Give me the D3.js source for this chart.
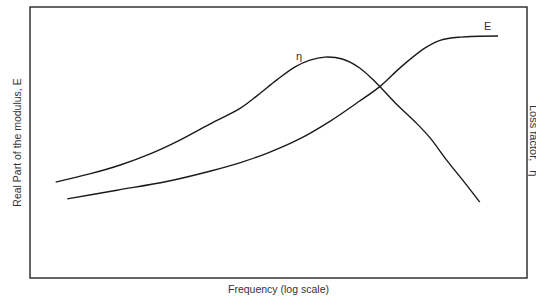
<!DOCTYPE html>
<html>
<head>
<meta charset="utf-8">
<script src="https://cdn.jsdelivr.net/npm/d3@7"></script>
<style>
  html, body { margin: 0; padding: 0; background: #fff; }
  svg { display: block; font-family: "Liberation Sans", Arial, sans-serif; }
</style>
</head>
<body>
<div id="chart"></div>
<script>
// log10 of frequency (arbitrary units) and relative values 0..100
const etaFreq = [0.31, 0.72, 1.09, 1.45, 1.81, 2.17, 2.54, 2.75, 2.98, 3.20, 3.38, 3.56, 3.77, 3.98, 4.17, 4.41, 4.65, 4.83, 5.03, 5.25, 5.43];
const etaValues = [35.4, 38.4, 41.7, 45.8, 50.9, 56.8, 62.7, 67.5, 73.1, 77.9, 80.4, 81.5, 80.8, 77.5, 72.3, 64.6, 57.6, 51.7, 43.5, 35.1, 28.0];

const modFreq = [0.45, 1.05, 1.65, 2.17, 2.54, 2.86, 3.26, 3.62, 3.98, 4.23, 4.48, 4.77, 4.96, 5.20, 5.65];
const modValues = [29.2, 32.4, 35.6, 39.4, 42.6, 46.0, 51.4, 57.8, 65.3, 70.8, 77.9, 84.9, 87.8, 88.9, 89.3];

const xLabel = "Frequency (log scale)";
const yLabel = "Real Part of the modulus, E";
const y2Label = "Loss factor,";
const y2Symbol = "η";

const width = 536, height = 298;
const margin = { top: 7, right: 9, bottom: 20, left: 30 };

const svg = d3.select("#chart").append("svg")
  .attr("width", width)
  .attr("height", height);

const x = d3.scaleLinear().domain([0, 6]).range([margin.left, width - margin.right]);
const y = d3.scaleLinear().domain([0, 100]).range([height - margin.bottom, margin.top]);

// frame
svg.append("rect")
  .attr("x", x.range()[0])
  .attr("y", y.range()[1])
  .attr("width", x.range()[1] - x.range()[0])
  .attr("height", y.range()[0] - y.range()[1])
  .attr("fill", "none")
  .attr("stroke", "#333")
  .attr("stroke-width", 1.5);

const line = d3.line()
  .x(d => x(d[0]))
  .y(d => y(d[1]))
  .curve(d3.curveCatmullRom.alpha(0.5));

svg.append("path")
  .datum(d3.zip(etaFreq, etaValues))
  .attr("d", line)
  .attr("fill", "none")
  .attr("stroke", "#1a1a1a")
  .attr("stroke-width", 1.4);

svg.append("path")
  .datum(d3.zip(modFreq, modValues))
  .attr("d", line)
  .attr("fill", "none")
  .attr("stroke", "#1a1a1a")
  .attr("stroke-width", 1.4);

// curve labels
svg.append("text")
  .attr("x", x(3.21))
  .attr("y", y(80.5))
  .attr("font-size", 11)
  .attr("fill", "#333")
  .text("η");

svg.append("text")
  .attr("x", x(5.48))
  .attr("y", y(91.5))
  .attr("font-size", 11)
  .attr("fill", "#333")
  .text("E");

// axis titles
svg.append("text")
  .attr("x", (x.range()[0] + x.range()[1]) / 2)
  .attr("y", 293)
  .attr("text-anchor", "middle")
  .attr("font-size", 10.5)
  .attr("fill", "#333")
  .text(xLabel);

svg.append("text")
  .attr("transform", `translate(21,${(y.range()[0] + y.range()[1]) / 2}) rotate(-90)`)
  .attr("text-anchor", "middle")
  .attr("font-size", 10.5)
  .attr("fill", "#333")
  .text(yLabel);

// right title runs off the edge in the original
const y2 = svg.append("text")
  .attr("transform", `translate(530,105) rotate(90)`)
  .attr("font-size", 11)
  .attr("fill", "#333");
y2.append("tspan").text(y2Label);
y2.append("tspan").attr("dx", 9).text(y2Symbol);
</script>
</body>
</html>
